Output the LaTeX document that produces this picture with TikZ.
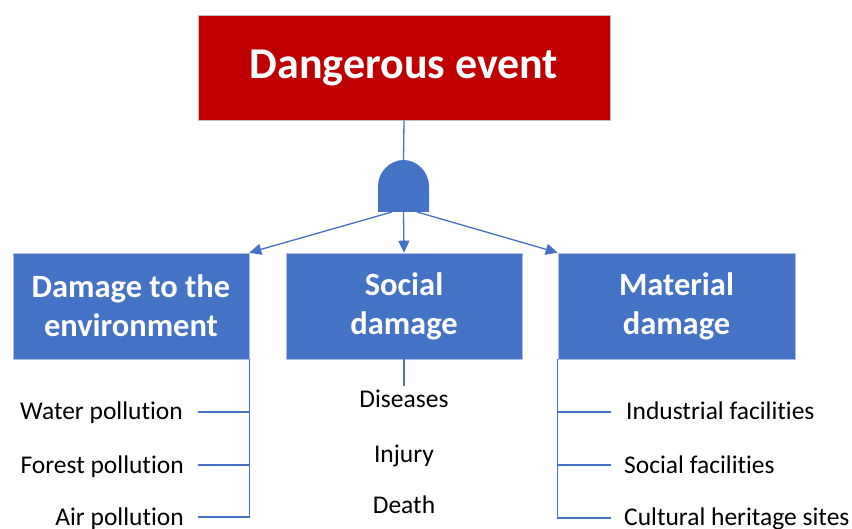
\documentclass[tikz,border=0pt]{standalone}
\usepackage{fontspec}
\setmainfont{Carlito}[Ligatures=NoCommon]
\usetikzlibrary{arrows.meta}
\definecolor{eventred}{HTML}{C00000}
\definecolor{dmgblue}{HTML}{4472C4}
\tikzset{
  titlebox/.style={fill=eventred, draw=black!25, line width=0.6pt, text=white,
    minimum width=412pt, minimum height=105pt, inner sep=0pt,
    font=\fontsize{44}{50}\selectfont\bfseries},
  catbox/.style={fill=dmgblue, draw=dmgblue!45!white, line width=0.6pt, text=white,
    minimum height=106pt, inner sep=0pt, align=center,
    font=\fontsize{32.5}{39}\selectfont\bfseries},
  item/.style={inner sep=0pt, font=\fontsize{25.5}{28}\selectfont},
  link/.style={draw=dmgblue, line width=1.3pt},
  arrowlink/.style={link, -{Triangle[length=12pt,width=11pt]}},
}
\begin{document}
\begin{tikzpicture}[x=1pt,y=-1pt]
  \useasboundingbox (0,0) rectangle (852,529);

  % top event
  \node[titlebox] (event) at (404,67.5) {\raisebox{-3pt}{Dangerous event}};

  % AND gate below the event
  \coordinate (gtop) at (403.5,160);
  \coordinate (gbot) at (403.5,212);
  \coordinate (gl) at (392,212);
  \coordinate (gr) at (417,212);
  \fill[dmgblue] (378,212) -- (378,186)
    .. controls (378,172) and (390,160) .. (gtop)
    .. controls (417,160) and (429,172) .. (429,186) -- (429,212) -- cycle;
  \draw[link] (event.south) -- (gtop);

  % consequence categories
  \node[catbox, minimum width=236pt] (env) at (131,306) {Damage to the\\environment};
  \node[catbox, minimum width=236pt] (soc) at (404,306) {Social\\damage};
  \node[catbox, minimum width=237pt] (mat) at (676.5,306) {Material\\damage};

  \draw[arrowlink] (gl) -- (env.north east);
  \draw[arrowlink] (gbot) -- (soc.north);
  \draw[arrowlink] (gr) -- (mat.north west);

  % environmental damage items
  \node[item, anchor=base east] (wp) at (183,420) {Water pollution};
  \node[item, anchor=base east] (fp) at (184,473) {Forest pollution};
  \node[item, anchor=base east] (ap) at (184,525) {Air pollution};
  \coordinate (wpl) at (198,412);
  \coordinate (fpl) at (198,465);
  \coordinate (apl) at (198,517);
  \draw[link] (env.south east) |- (apl);
  \draw[link] (wpl) -- (wpl -| env.south east);
  \draw[link] (fpl) -- (fpl -| env.south east);

  % social damage items
  \node[item, anchor=base] (dis) at (404,408) {Diseases};
  \node[item, anchor=base] (inj) at (404,462) {Injury};
  \node[item, anchor=base] (dth) at (404,513) {Death};
  \draw[link] (soc.south) -- ++(0,27);

  % material damage items
  \node[item, anchor=base west] (ind) at (626,420) {Industrial facilities};
  \node[item, anchor=base west] (sf) at (624,473) {Social facilities};
  \node[item, anchor=base west] (chs) at (624,525) {Cultural heritage sites};
  \coordinate (indl) at (611,412);
  \coordinate (sfl) at (611,465);
  \coordinate (chsl) at (611,518);
  \draw[link] (mat.south west) |- (chsl);
  \draw[link] (indl) -- (indl -| mat.south west);
  \draw[link] (sfl) -- (sfl -| mat.south west);
\end{tikzpicture}
\end{document}
